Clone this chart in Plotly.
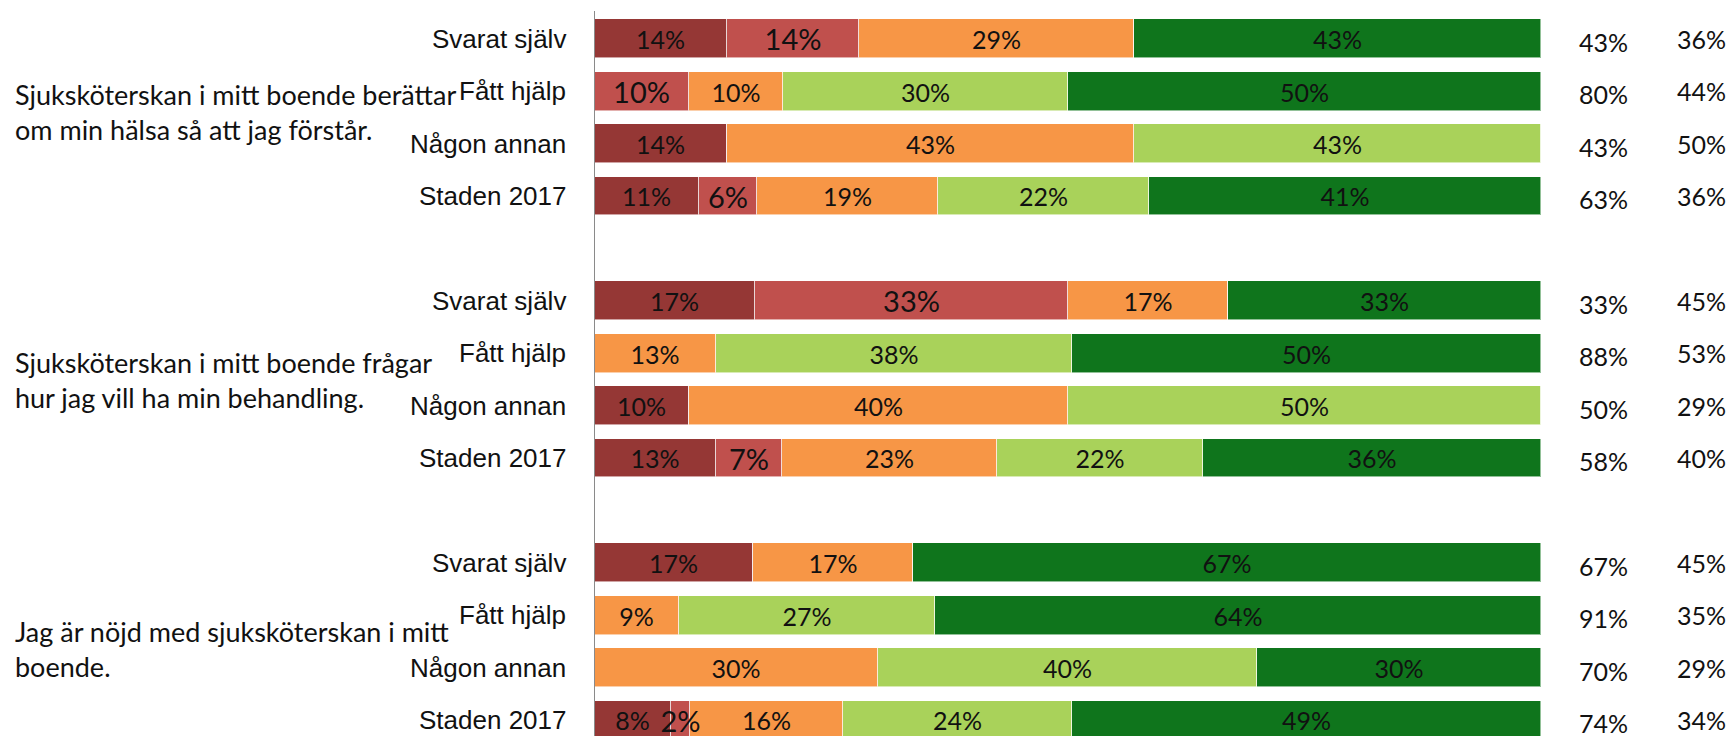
import plotly.graph_objects as go

# Survey questions (one block of four rows each)
questions = [
    "Sjuksköterskan i mitt boende berättar<br>om min hälsa så att jag förstår.",
    "Sjuksköterskan i mitt boende frågar<br>hur jag vill ha min behandling.",
    "Jag är nöjd med sjuksköterskan i mitt<br>boende.",
]
respondents = ["Svarat själv", "Fått hjälp", "Någon annan", "Staden 2017"]

# Answer shares in percent, ordered question by question, respondent by respondent
very_negative = [14, 0, 14, 11, 17, 0, 10, 13, 17, 0, 0, 8]
negative = [14, 10, 0, 6, 33, 0, 0, 7, 0, 0, 0, 2]
neutral = [29, 10, 43, 19, 17, 13, 40, 23, 17, 9, 30, 16]
positive = [0, 30, 43, 22, 0, 38, 50, 22, 0, 27, 40, 24]
very_positive = [43, 50, 0, 41, 33, 50, 0, 36, 67, 64, 30, 49]

# Summary columns to the right of the bars
share_positive = [43, 80, 43, 63, 33, 88, 50, 58, 67, 91, 70, 74]
second_column = [36, 44, 50, 36, 45, 53, 29, 40, 45, 35, 29, 34]

series = [
    (very_negative, "#953735", 25),
    (negative, "#C0504D", 29),
    (neutral, "#F79646", 25),
    (positive, "#A9D25A", 25),
    (very_positive, "#0F751C", 25),
]

n_resp = len(respondents)
# vertical slot of each row: a blank slot separates the question blocks
slots = [q * (n_resp + 1) + r for q in range(len(questions)) for r in range(n_resp)]
row_labels = [respondents[r] for q in range(len(questions)) for r in range(n_resp)]

fig = go.Figure()
# coloured segments
for values, color, size in series:
    fig.add_trace(go.Bar(
        x=values, y=slots, orientation="h", width=0.74,
        marker=dict(color=color, line=dict(color="rgba(255,255,255,0.55)", width=1)),
        hoverinfo="skip", showlegend=False, yaxis="y",
    ))
# same stack on an overlaid axis, transparent, carrying the value labels on top
for values, color, size in series:
    fig.add_trace(go.Bar(
        x=values, y=slots, orientation="h", width=0.74,
        marker=dict(color="rgba(0,0,0,0)", line=dict(width=0)),
        text=[f"{v}%" if v > 0 else "" for v in values],
        textposition="inside", insidetextanchor="middle", textangle=0,
        constraintext="none",
        textfont=dict(family="Lato", size=size, color="#111111"),
        hoverinfo="skip", showlegend=False, yaxis="y2",
    ))

annotations = []
for s, lab in zip(slots, row_labels):
    annotations.append(dict(
        x=0, y=s, xref="x", yref="y", text=lab, showarrow=False,
        xanchor="right", yanchor="middle", xshift=-26,
        font=dict(family="Liberation Sans", size=26, color="#111111"),
    ))

for s, a, b in zip(slots, share_positive, second_column):
    annotations.append(dict(
        x=1, y=s, xref="paper", yref="y", text=f"{a}%", showarrow=False,
        xanchor="center", yanchor="middle", xshift=62, yshift=-3,
        font=dict(family="Lato", size=25, color="#111111"),
    ))
    annotations.append(dict(
        x=1, y=s, xref="paper", yref="y", text=f"{b}%", showarrow=False,
        xanchor="center", yanchor="middle", xshift=160,
        font=dict(family="Lato", size=25, color="#111111"),
    ))

question_y = [1.39, 6.51, 11.65]
for qy, qt in zip(question_y, questions):
    annotations.append(dict(
        x=0, y=qy, xref="paper", yref="y", text=qt, showarrow=False,
        xanchor="left", yanchor="middle", align="left", xshift=-581,
        font=dict(family="Lato", size=27, color="#111111"),
    ))

y_range = [13.307, -0.739]
fig.update_layout(
    width=1735, height=736,
    margin=dict(l=594, r=194, t=0, b=0),
    barmode="stack", barnorm="percent",
    bargap=0,
    plot_bgcolor="white", paper_bgcolor="white",
    xaxis=dict(range=[0, 100], visible=False, fixedrange=True),
    yaxis=dict(range=y_range, visible=False, fixedrange=True),
    yaxis2=dict(range=y_range, visible=False, fixedrange=True, overlaying="y"),
    annotations=annotations,
    shapes=[dict(type="line", xref="x", yref="paper", x0=0, x1=0, y0=0, y1=1 - 11 / 736,
                 line=dict(color="#8A8A8A", width=2), layer="above")],
    uniformtext=dict(mode=False),
)

fig.write_html("out.html")
